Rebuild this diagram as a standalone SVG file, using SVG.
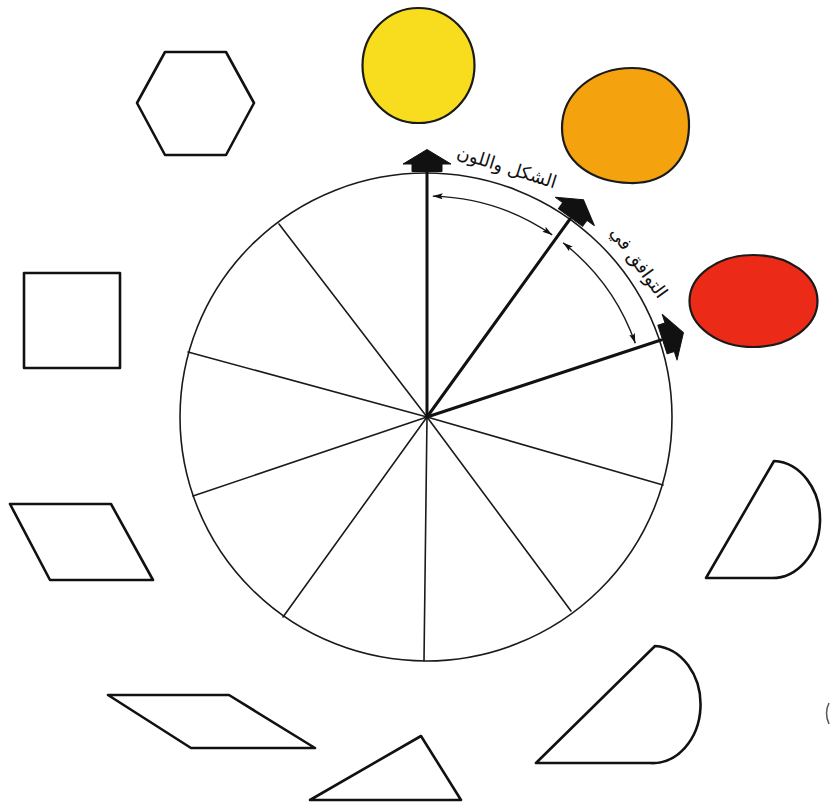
<svg xmlns="http://www.w3.org/2000/svg" width="831" height="809" viewBox="0 0 831 809">
  <defs>
    <style>
      .shape { fill: #ffffff; stroke: #111111; stroke-width: 2.6; stroke-linejoin: round; }
      .ball { stroke: #1a1a1a; stroke-width: 2.2; }
      .rim { fill: none; stroke: #1a1a1a; stroke-width: 1.6; }
      .spoke { stroke: #1a1a1a; stroke-width: 1.6; stroke-linecap: round; }
      .spoke-bold { stroke: #111111; stroke-width: 3; stroke-linecap: round; }
      .dim { fill: none; stroke: #1a1a1a; stroke-width: 1.4; marker-start: url(#tip); marker-end: url(#tip); }
      .house { fill: #111111; stroke: #111111; stroke-width: 1; stroke-linejoin: round; }
      .label { font-family: "DejaVu Sans", "Noto Sans", sans-serif; font-size: 18px; fill: #111111; }
    </style>
    <marker id="tip" viewBox="0 0 10 6" refX="10" refY="3" markerWidth="10" markerHeight="6" markerUnits="userSpaceOnUse" orient="auto-start-reverse">
      <path d="M0,0 L10,3 L0,6 L2,3 Z" fill="#111111"/>
    </marker>
    <path id="housePath" d="M-15,0 L-15,-7.5 L-24,-7.5 L0,-22 L24,-7.5 L15,-7.5 L15,0 Z"/>
  </defs>

  <rect width="831" height="809" fill="#ffffff"/>

  <!-- colored balls -->
  <g id="yellow-ball">
    <ellipse class="ball" cx="418.5" cy="65.5" rx="56" ry="57.5" fill="#F7DD1E"/>
  </g>
  <g id="orange-ball">
    <path class="ball" fill="#F5A20F" d="M562,128 C562,92 595,68 632,68 C668,68 690,95 689,127 C688,162 665,184 630,183 C592,182 562,162 562,128 Z"/>
  </g>
  <g id="red-ball">
    <ellipse class="ball" cx="753.5" cy="301" rx="64" ry="46" fill="#EC2A18"/>
  </g>

  <!-- outline shapes -->
  <g id="hexagon">
    <polygon class="shape" points="137,103 165,52 226,52 254,103 226,155 165,155"/>
  </g>
  <g id="square">
    <rect class="shape" x="24" y="273" width="96" height="95"/>
  </g>
  <g id="parallelogram-left">
    <polygon class="shape" points="10,504 111,504 153,580 50,580"/>
  </g>
  <g id="parallelogram-bottom">
    <polygon class="shape" points="108,695 229,695 315,748 191,748"/>
  </g>
  <g id="triangle">
    <polygon class="shape" points="421,736 461,800 310,800"/>
  </g>
  <g id="half-disc-right">
    <path class="shape" d="M774,461 L706,578 L770,578 A48,58.5 0 0 0 774,461 Z"/>
  </g>
  <g id="half-disc-bottom">
    <path class="shape" d="M655,646 L536,763 L650,763 A48,58.5 0 0 0 655,646 Z"/>
  </g>
  <g id="edge-fragment">
    <path d="M829,703 Q824,713 829,724" fill="none" stroke="#555555" stroke-width="1.5"/>
  </g>

  <!-- wheel -->
  <g id="wheel">
    <ellipse class="rim" cx="426" cy="417" rx="246" ry="244"/>
    <line class="spoke" x1="427" y1="417" x2="663" y2="485"/>
    <line class="spoke" x1="427" y1="417" x2="571" y2="611"/>
    <line class="spoke" x1="427" y1="417" x2="424" y2="661"/>
    <line class="spoke" x1="427" y1="417" x2="283" y2="617"/>
    <line class="spoke" x1="427" y1="417" x2="193" y2="496"/>
    <line class="spoke" x1="427" y1="417" x2="188" y2="352"/>
    <line class="spoke" x1="427" y1="417" x2="279" y2="224"/>
  </g>

  <!-- connectors: bold spokes, arrows and dimension arcs -->
  <g id="connectors">
    <line class="spoke-bold" x1="427" y1="417" x2="427" y2="172"/>
    <line class="spoke-bold" x1="427" y1="417" x2="570" y2="219"/>
    <line class="spoke-bold" x1="427" y1="417" x2="661" y2="340"/>
    <use href="#housePath" class="house" transform="translate(427,171.5)"/>
    <use href="#housePath" class="house" transform="translate(570.5,217.5) rotate(36)"/>
    <use href="#housePath" class="house" transform="translate(662.5,339.5) rotate(72)"/>
    <path class="dim" d="M432.8,196.1 A221,221 0 0 1 552.2,234.9"/>
    <path class="dim" d="M563.1,242.8 A221,221 0 0 1 635.3,343.3"/>
  </g>

  <!-- labels -->
  <g id="label-shape-color">
    <text class="label" x="505" y="173" text-anchor="middle" direction="rtl" transform="rotate(17.5 505 173)">الشكل واللون</text>
  </g>
  <g id="label-harmony">
    <text class="label" x="634" y="266" text-anchor="middle" direction="rtl" transform="rotate(54 634 266)">التوافق في</text>
  </g>
</svg>
